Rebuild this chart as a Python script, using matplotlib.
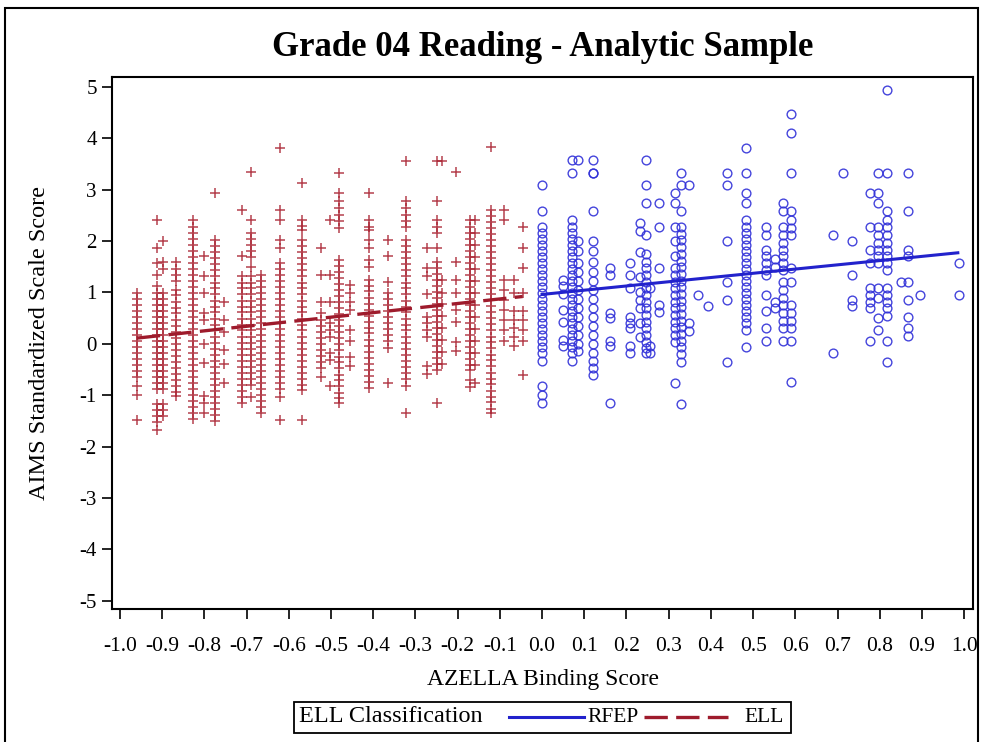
import matplotlib
matplotlib.use("Agg")
import matplotlib.pyplot as plt
from matplotlib.lines import Line2D
from matplotlib.patches import Rectangle

plt.rcParams['font.family'] = ['Liberation Serif', 'DejaVu Serif']
plt.rcParams['axes.unicode_minus'] = False

# ELL group: x position of each column and the scores stacked in it
ell_x = [-0.96, -0.913, -0.897, -0.868, -0.826, -0.80, -0.775, -0.753, -0.711, -0.689,
         -0.665, -0.622, -0.570, -0.524, -0.503, -0.48, -0.455, -0.41, -0.364, -0.322,
         -0.273, -0.249, -0.238, -0.205, -0.17, -0.158, -0.12, -0.091, -0.067, -0.046]
ell_y = [
    [0.99, 0.88, 0.76, 0.64, 0.53, 0.41, 0.29, 0.18, 0.06, -0.06, -0.18, -0.29, -0.41, -0.53, -0.64, -0.82, -0.99, -1.48],
    [2.41, 1.86, 1.57, 1.34, 1.12, 0.99, 0.88, 0.76, 0.64, 0.53, 0.41, 0.29, 0.18, 0.06, -0.06, -0.18, -0.29, -0.41, -0.53,
     -0.64, -0.76, -0.88, -1.17, -1.29, -1.41, -1.52, -1.67],
    [1.99, 1.60, 1.46, 0.99, 0.88, 0.76, 0.64, 0.53, 0.41, 0.29, 0.18, 0.06, -0.06, -0.18, -0.29, -0.41, -0.53, -0.64,
     -0.76, -0.88, -1.17, -1.29, -1.41],
    [1.60, 1.46, 1.34, 1.22, 1.05, 0.94, 0.82, 0.70, 0.59, 0.47, 0.35, 0.23, 0.12, 0.0, -0.12, -0.23, -0.35, -0.47, -0.59,
     -0.70, -0.82, -0.94, -1.02],
    [2.41, 2.28, 2.16, 2.04, 1.93, 1.81, 1.69, 1.58, 1.46, 1.34, 1.22, 1.11, 0.99, 0.87, 0.76, 0.64, 0.52, 0.41, 0.29, 0.17,
     0.06, -0.06, -0.18, -0.29, -0.41, -0.53, -0.64, -0.76, -0.88, -0.99, -1.11, -1.23, -1.34, -1.46],
    [1.70, 1.31, 0.99, 0.60, 0.47, 0.0, -0.38, -1.02, -1.15, -1.35],
    [2.93, 2.02, 1.90, 1.78, 1.66, 1.55, 1.43, 1.31, 1.19, 1.08, 0.96, 0.84, 0.72, 0.61, 0.49, 0.37, 0.26, 0.14, 0.02, -0.10,
     -0.21, -0.33, -0.45, -0.57, -0.68, -0.80, -0.92, -1.03, -1.15, -1.27, -1.39, -1.50],
    [0.82, 0.47, 0.23, -0.12, -0.40, -0.76],
    [2.61, 1.71, 1.31, 1.19, 1.08, 0.96, 0.84, 0.72, 0.61, 0.49, 0.37, 0.26, 0.14, 0.02, -0.10, -0.21, -0.33, -0.45, -0.57,
     -0.68, -0.80, -0.92, -1.03, -1.15],
    [3.35, 2.41, 2.16, 2.04, 1.93, 1.81, 1.69, 1.50, 1.31, 1.19, 1.08, 0.96, 0.84, 0.72, 0.61, 0.49, 0.37, 0.26, 0.14, 0.02,
     -0.10, -0.21, -0.33, -0.45, -0.57, -0.68, -0.80, -1.03],
    [1.34, 1.22, 1.11, 0.99, 0.87, 0.76, 0.64, 0.52, 0.41, 0.29, 0.17, 0.06, -0.06, -0.18, -0.29, -0.41, -0.53, -0.64,
     -0.76, -0.88, -0.99, -1.11, -1.23, -1.35],
    [3.81, 2.61, 2.41, 2.02, 1.86, 1.57, 1.46, 1.34, 1.22, 1.11, 0.99, 0.87, 0.76, 0.64, 0.52, 0.41, 0.29, 0.17, 0.06,
     -0.06, -0.18, -0.29, -0.41, -0.53, -0.64, -0.76, -0.88, -1.03, -1.48],
    [3.13, 2.41, 2.30, 2.22, 2.02, 1.90, 1.78, 1.66, 1.55, 1.43, 1.31, 1.19, 1.08, 0.96, 0.84, 0.72, 0.61, 0.49, 0.37, 0.26,
     0.14, 0.02, -0.10, -0.21, -0.33, -0.45, -0.57, -0.68, -0.80, -0.89, -1.48],
    [1.86, 1.34, 0.82, 0.60, 0.47, 0.35, 0.23, 0.12, 0.0, -0.12, -0.23, -0.35, -0.47, -0.64],
    [2.41, 1.34, 0.82, 0.40, 0.27, 0.14, -0.18, -0.31, -0.83],
    [3.33, 2.93, 2.77, 2.64, 2.51, 2.38, 2.25, 1.63, 1.51, 1.39, 1.28, 1.16, 1.04, 0.93, 0.81, 0.69, 0.57, 0.46, 0.34, 0.22,
     0.11, -0.01, -0.13, -0.25, -0.36, -0.48, -0.60, -0.71, -0.83, -0.95, -1.06, -1.15],
    [1.15, 0.99, 0.82, 0.66, 0.27, 0.05, -0.25, -0.44],
    [2.93, 2.41, 2.28, 2.22, 2.02, 1.86, 1.63, 1.50, 1.25, 1.13, 1.02, 0.90, 0.78, 0.66, 0.55, 0.43, 0.31, 0.20, 0.08,
     -0.04, -0.16, -0.27, -0.39, -0.51, -0.62, -0.74, -0.86],
    [2.02, 1.70, 1.21, 0.99, 0.87, 0.76, 0.64, 0.52, 0.41, 0.29, 0.17, 0.06, -0.08, -0.76],
    [3.55, 2.77, 2.64, 2.51, 2.38, 2.28, 2.02, 1.90, 1.78, 1.66, 1.55, 1.43, 1.31, 1.19, 1.08, 0.96, 0.84, 0.72, 0.61, 0.49,
     0.37, 0.26, 0.14, 0.02, -0.10, -0.21, -0.33, -0.45, -0.57, -0.68, -0.83, -1.35],
    [1.86, 1.47, 1.31, 0.96, 0.53, 0.40, 0.27, 0.14, -0.44, -0.59],
    [3.55, 2.77, 2.41, 2.28, 2.16, 1.86, 1.60, 1.48, 1.36, 1.25, 1.13, 1.01, 0.89, 0.78, 0.66, 0.54, 0.43, 0.31, 0.19, 0.08,
     -0.04, -0.16, -0.27, -0.39, -0.51, -1.15],
    [3.55, 1.25, 0.99, 0.78, 0.54, 0.31, 0.08, -0.16, -0.39],
    [3.35, 1.60, 1.25, 0.99, 0.66, 0.43, 0.04, -0.15],
    [2.41, 2.28, 2.16, 2.04, 1.93, 1.81, 1.69, 1.58, 1.46, 1.34, 1.22, 1.11, 0.99, 0.87, 0.76, 0.64, 0.52, 0.41, 0.29, 0.17,
     0.06, -0.06, -0.18, -0.29, -0.41, -0.51, -0.70, -0.85],
    [2.41, 2.16, 1.93, 1.69, 1.46, 1.22, 0.99, 0.76, 0.52, 0.29, 0.06, -0.18, -0.41, -0.76],
    [3.83, 2.61, 2.49, 2.37, 2.26, 2.14, 2.02, 1.90, 1.79, 1.67, 1.55, 1.43, 1.32, 1.20, 1.08, 0.97, 0.85, 0.73, 0.61, 0.50,
     0.38, 0.26, 0.14, 0.03, -0.09, -0.21, -0.32, -0.44, -0.56, -0.68, -0.79, -0.91, -1.03, -1.14, -1.26, -1.35],
    [2.61, 2.41, 1.25, 1.05, 0.86, 0.66, 0.47, 0.27, 0.05],
    [1.25, 0.99, 0.64, 0.47, 0.31, 0.14, -0.05],
    [2.27, 1.86, 1.47, 0.99, 0.64, 0.47, 0.27, 0.05, -0.60],
]

# RFEP group
rfep_x = [0.0, 0.05, 0.07, 0.084, 0.12, 0.161, 0.209, 0.232, 0.246, 0.256, 0.278, 0.314, 0.329, 0.347, 0.369, 0.392,
          0.438, 0.483, 0.531, 0.552, 0.572, 0.59, 0.689, 0.713, 0.735, 0.777, 0.797, 0.817, 0.85, 0.868, 0.896, 0.987]
rfep_y = [
    [3.09, 2.59, 2.28, 2.16, 2.04, 1.93, 1.81, 1.69, 1.58, 1.46, 1.34, 1.22, 1.11, 0.99, 0.87, 0.76, 0.64, 0.52, 0.41, 0.29,
     0.17, 0.06, -0.06, -0.18, -0.34, -0.83, -0.99, -1.15],
    [1.25, 1.12, 0.97, 0.66, 0.43, 0.08, -0.05],
    [3.57, 3.33, 2.41, 2.28, 2.16, 2.04, 1.93, 1.81, 1.69, 1.58, 1.46, 1.34, 1.22, 1.11, 0.99, 0.87, 0.76, 0.64, 0.52, 0.41,
     0.29, 0.17, 0.06, -0.06, -0.18, -0.34],
    [3.57, 1.99, 1.81, 1.58, 1.40, 1.22, 1.05, 0.87, 0.70, 0.52, 0.35, 0.17, 0.0, -0.14],
    [3.57, 3.33, 3.33, 2.59, 1.99, 1.81, 1.60, 1.40, 1.22, 1.05, 0.87, 0.70, 0.52, 0.35, 0.17, 0.0, -0.18, -0.34, -0.47, -0.60],
    [1.47, 1.34, 0.60, 0.50, 0.05, -0.05, -1.15],
    [1.58, 1.34, 1.08, 0.53, 0.40, 0.31, -0.05, -0.18],
    [2.35, 2.20, 1.78, 1.30, 1.00, 0.85, 0.70, 0.40, 0.14],
    [3.57, 3.09, 2.74, 2.12, 1.74, 1.60, 1.47, 1.34, 1.21, 1.08, 0.95, 0.82, 0.69, 0.56, 0.43, 0.30, 0.17, 0.04, -0.09, -0.18],
    [1.08, -0.05, -0.18],
    [2.74, 2.27, 1.47, 0.75, 0.62],
    [2.93, 2.74, 2.27, 1.99, 1.70, 1.47, 1.34, 1.21, 1.08, 0.95, 0.82, 0.69, 0.56, 0.43, 0.30, 0.17, 0.04, -0.77],
    [3.33, 3.09, 2.59, 2.27, 2.14, 2.01, 1.88, 1.75, 1.62, 1.49, 1.36, 1.23, 1.10, 0.97, 0.84, 0.71, 0.58, 0.45, 0.32, 0.19,
     0.06, -0.07, -0.20, -0.35, -1.17],
    [3.09, 0.40, 0.24],
    [0.95],
    [0.73],
    [3.33, 3.09, 1.99, 1.21, 0.86, -0.36],
    [3.81, 3.33, 2.93, 2.74, 2.41, 2.28, 2.16, 2.04, 1.93, 1.81, 1.69, 1.58, 1.46, 1.34, 1.22, 1.11, 0.99, 0.87, 0.76, 0.64,
     0.52, 0.41, 0.27, -0.06],
    [2.27, 2.12, 1.83, 1.70, 1.57, 1.44, 1.34, 0.95, 0.63, 0.31, 0.05],
    [1.65, 1.50, 0.82, 0.70],
    [2.74, 2.59, 2.27, 2.12, 1.97, 1.83, 1.70, 1.57, 1.44, 1.21, 1.05, 0.90, 0.75, 0.60, 0.45, 0.30, 0.05],
    [4.47, 4.10, 3.33, 2.59, 2.41, 2.25, 2.12, 1.47, 1.21, 0.75, 0.60, 0.45, 0.31, 0.05, -0.75],
    [2.12, -0.18],
    [3.33],
    [1.99, 1.34, 0.86, 0.73],
    [2.93, 2.27, 1.83, 1.57, 1.08, 0.95, 0.82, 0.69, 0.05],
    [3.33, 2.93, 2.74, 2.27, 2.12, 1.97, 1.83, 1.70, 1.57, 1.08, 0.90, 0.50, 0.27],
    [4.93, 3.33, 2.59, 2.41, 2.27, 2.12, 1.97, 1.83, 1.70, 1.57, 1.44, 1.08, 0.95, 0.82, 0.69, 0.55, 0.05, -0.36],
    [1.21],
    [3.33, 2.59, 1.83, 1.70, 1.21, 0.86, 0.53, 0.31, 0.15],
    [0.95],
    [1.57, 0.95],
]

# fitted lines (end points)
ell_fit_x = [-0.96, -0.046]
ell_fit_y = [0.11, 0.92]
rfep_fit_x = [0.0, 0.985]
rfep_fit_y = [0.96, 1.77]

x_ticks = [-1.0, -0.9, -0.8, -0.7, -0.6, -0.5, -0.4, -0.3, -0.2, -0.1, 0.0,
           0.1, 0.2, 0.3, 0.4, 0.5, 0.6, 0.7, 0.8, 0.9, 1.0]
y_ticks = [5, 4, 3, 2, 1, 0, -1, -2, -3, -4, -5]

RED = '#A8202F'
DARKRED = '#9E1B2C'
BLUE = '#3030D8'
LINEBLUE = '#2222CC'

W, H = 982, 742
fig = plt.figure(figsize=(W / 100, H / 100), dpi=100)
ax = fig.add_axes([112 / W, 1 - 609 / H, (973 - 112) / W, (609 - 77) / H])

for x, ys in zip(ell_x, ell_y):
    ax.plot([x] * len(ys), ys, linestyle='none', marker='+', ms=7.8, mew=1.1,
            color=RED, alpha=0.85)
for x, ys in zip(rfep_x, rfep_y):
    ax.plot([x] * len(ys), ys, linestyle='none', marker='o', ms=6.3, mew=1.0,
            mfc='none', mec=BLUE, alpha=0.9)

ax.plot(rfep_fit_x, rfep_fit_y, color=LINEBLUE, lw=2.2)
ax.plot(ell_fit_x, ell_fit_y, color=DARKRED, lw=2.4, dashes=(7, 2.5))

ax.set_xlim(-1.019, 1.021)
ax.set_ylim(-5.16, 5.19)
ax.set_xticks(x_ticks)
ax.set_xticklabels([f"{t:.1f}" for t in x_ticks])
ax.set_yticks(y_ticks)
ax.set_yticklabels([str(t) for t in y_ticks])
ax.tick_params(axis='x', direction='out', length=7, width=1.2, pad=13, labelsize=15.5)
ax.tick_params(axis='y', direction='out', length=7, width=1.2, pad=4, labelsize=15)
for s in ax.spines.values():
    s.set_linewidth(1.5)

fig.text(543 / W, 1 - 47 / H, "Grade 04 Reading - Analytic Sample", ha='center', va='center',
         fontsize=25, fontweight='bold')
fig.text(40 / W, 1 - 343 / H, "AIMS Standardized Scale Score", ha='center', va='center',
         rotation=90, fontsize=17.5)
fig.text(543 / W, 1 - 680 / H, "AZELLA Binding Score", ha='center', va='center', fontsize=17)

# legend box
fig.add_artist(Rectangle((294 / W, 1 - 733 / H), (791 - 294) / W, 31 / H, transform=fig.transFigure,
                         fill=False, lw=1.3, color='black'))
ly = 1 - 717 / H
fig.text(299 / W, ly, "ELL Classification", ha='left', va='center', fontsize=17.5)
fig.add_artist(Line2D([509 / W, 584 / W], [ly, ly], transform=fig.transFigure, color=LINEBLUE, lw=2.2))
fig.text(587 / W, ly, "RFEP", ha='left', va='center', fontsize=15.5)
fig.add_artist(Line2D([644 / W, 728 / W], [ly, ly], transform=fig.transFigure, color=DARKRED, lw=2.4,
                      dashes=(7, 2.5)))
fig.text(744 / W, ly, "ELL", ha='left', va='center', fontsize=15.5)

# outer frame
fig.add_artist(Rectangle((5 / W, -0.01), (978 - 5) / W, 1.01 - 8 / H, transform=fig.transFigure,
                         fill=False, lw=1.5, color='black'))

fig.savefig("out.png", dpi=100)
